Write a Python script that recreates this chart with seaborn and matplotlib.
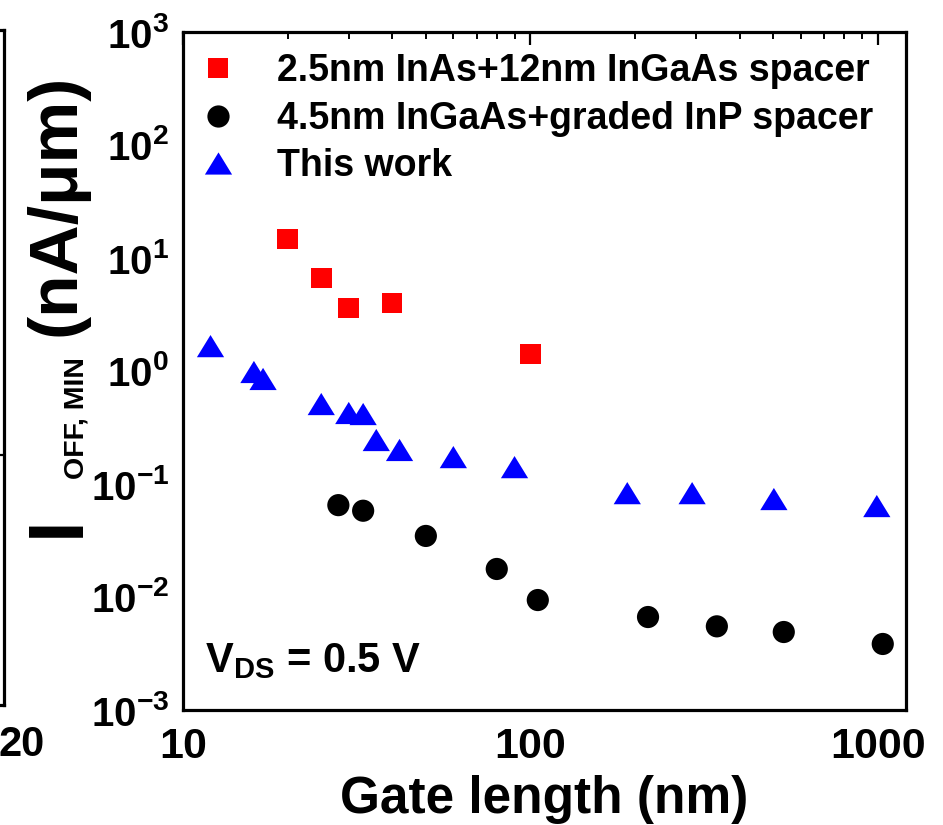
import numpy as np
import pandas as pd
import matplotlib
matplotlib.use("Agg")
import matplotlib.pyplot as plt
import seaborn as sns
from matplotlib.path import Path
from matplotlib.lines import Line2D
from matplotlib.ticker import LogLocator, FixedLocator, FixedFormatter, NullFormatter

# ---------------- data ----------------
series_names = ["2.5nm InAs+12nm InGaAs spacer",
                "4.5nm InGaAs+graded InP spacer",
                "This work"]
lg_inas = [20, 25, 30, 40, 100]
ioff_inas = [14.7, 6.65, 3.6, 4.0, 1.41]
lg_inp = [28, 33, 50, 80, 105, 218, 344, 536, 1033]
ioff_inp = [0.065, 0.058, 0.0347, 0.0177, 0.0094, 0.00665, 0.0055, 0.0049, 0.00384]
lg_this = [12, 16, 17, 25, 30, 33, 36, 42, 60, 90, 190, 292, 502, 993]
ioff_this = [1.66, 0.98, 0.85, 0.51, 0.425, 0.416, 0.245, 0.20, 0.173, 0.141,
             0.083, 0.083, 0.0736, 0.0638]
x_ticks = [10, 100, 1000]
x_tick_labels = ["10", "100", "1000"]
y_ticks = [1e-3, 1e-2, 1e-1, 1e0, 1e1, 1e2, 1e3]
y_tick_labels = [r"$10^{-3}$", r"$10^{-2}$", r"$10^{-1}$", r"$10^{0}$",
                 r"$10^{1}$", r"$10^{2}$", r"$10^{3}$"]
x_label = "Gate length (nm)"
annot_text = "V$_{\\rm DS}$ = 0.5 V"
left_panel_label = "20"

df = pd.concat([
    pd.DataFrame({"Lg": lg_inas, "Ioff": ioff_inas, "series": series_names[0]}),
    pd.DataFrame({"Lg": lg_inp, "Ioff": ioff_inp, "series": series_names[1]}),
    pd.DataFrame({"Lg": lg_this, "Ioff": ioff_this, "series": series_names[2]}),
], ignore_index=True)

# ---------------- style ----------------
sns.set_theme(style="white")
plt.rcParams["font.family"] = ["Liberation Sans", "DejaVu Sans"]
plt.rcParams["font.weight"] = "bold"
plt.rcParams["text.color"] = "black"
plt.rcParams["axes.labelcolor"] = "black"
plt.rcParams["xtick.color"] = "black"
plt.rcParams["ytick.color"] = "black"
plt.rcParams["mathtext.fontset"] = "custom"
plt.rcParams["mathtext.rm"] = "Liberation Sans:bold"
plt.rcParams["mathtext.bf"] = "Liberation Sans:bold"
plt.rcParams["mathtext.it"] = "Liberation Sans:bold"
plt.rcParams["mathtext.default"] = "rm"

W, H = 943, 825
fig = plt.figure(figsize=(W / 100, H / 100), dpi=100)

def fx(px):
    return px / W

def fy(py):
    return 1 - py / H

# main axes
ax = fig.add_axes([fx(183), fy(710), fx(906) - fx(183), fy(32) - fy(710)])

tri = Path([(-1, -0.815), (1, -0.815), (0, 0.815), (-1, -0.815)],
           [Path.MOVETO, Path.LINETO, Path.LINETO, Path.CLOSEPOLY])
palette = {series_names[0]: "#ff0000", series_names[1]: "#000000", series_names[2]: "#0000ff"}
markers = {series_names[0]: "s", series_names[1]: "o", series_names[2]: tri}
sizes = {series_names[0]: 220, series_names[1]: 255, series_names[2]: 385}

sns.scatterplot(data=df, x="Lg", y="Ioff", hue="series", style="series", size="series",
                palette=palette, markers=markers, sizes=sizes, linewidth=0,
                ax=ax, legend=False, zorder=3)

ax.set_xscale("log")
ax.set_yscale("log")
ax.set_xlim(10, 1205)
ax.set_ylim(1e-3, 1e3)

ax.xaxis.set_major_locator(FixedLocator(x_ticks))
ax.xaxis.set_major_formatter(FixedFormatter(x_tick_labels))
ax.xaxis.set_minor_locator(LogLocator(base=10, subs=np.arange(2, 10)))
ax.xaxis.set_minor_formatter(NullFormatter())
ax.yaxis.set_major_locator(FixedLocator(y_ticks))
ax.yaxis.set_major_formatter(FixedFormatter(y_tick_labels))
ax.yaxis.set_minor_locator(LogLocator(base=10, subs=np.arange(2, 10), numticks=20))
ax.yaxis.set_minor_formatter(NullFormatter())

for s in ax.spines.values():
    s.set_linewidth(2.3)
    s.set_color("black")

ax.tick_params(axis="both", which="major", direction="in", length=9, width=1.6,
               color="black", pad=8)
ax.tick_params(axis="both", which="minor", direction="in", length=5, width=1.4,
               color="black")
ax.tick_params(axis="x", which="both", top=True)
ax.tick_params(axis="x", which="major", labelsize=31, pad=12, labelcolor="black")
ax.tick_params(axis="y", which="major", labelsize=29, pad=10, labelcolor="black")
for t in ax.get_xticklabels() + ax.get_yticklabels():
    t.set_fontweight("bold")

ax.set_xlabel(x_label, fontsize=37, fontweight="bold", labelpad=6, color="black")
ax.set_ylabel("")

# legend
handles = [
    Line2D([], [], linestyle="none", marker="s", markersize=15,
           markerfacecolor="#ff0000", markeredgewidth=0),
    Line2D([], [], linestyle="none", marker="o", markersize=16,
           markerfacecolor="#000000", markeredgewidth=0),
    Line2D([], [], linestyle="none", marker=tri, markersize=19.6,
           markerfacecolor="#0000ff", markeredgewidth=0),
]
leg = ax.legend(handles, series_names, loc="upper left",
                bbox_to_anchor=(fx(199), fy(53)), bbox_transform=fig.transFigure,
                frameon=False, borderpad=0, borderaxespad=0,
                handlelength=1.0, handletextpad=1.08, labelspacing=0.31,
                prop={"size": 27, "weight": "bold"})
for t in leg.get_texts():
    t.set_color("black")

# annotation
fig.text(fx(205), fy(672), annot_text, fontsize=30, fontweight="bold",
         va="baseline", ha="left", color="black")

# y label composed of pieces
fig.text(fx(58), fy(526), "I", fontsize=56, fontweight="bold", rotation=90,
         ha="center", va="center", color="black")
fig.text(fx(77), fy(418), "OFF, MIN", fontsize=20.5, fontweight="bold", rotation=90,
         ha="center", va="center", color="black")
fig.text(fx(57), fy(205), "(nA/\u03bcm)", fontsize=50, fontweight="bold", rotation=90,
         ha="center", va="center", color="black")

# partial neighbouring panel at the left edge
ax0 = fig.add_axes([-0.3, fy(705), 0.3 + fx(4), fy(30) - fy(705)])
ax0.set_xticks([])
ax0.yaxis.tick_right()
ax0.set_yticks([0.37])
ax0.set_ylim(0, 1)
ax0.tick_params(axis="y", direction="in", length=7, width=1.6, labelright=False)
ax0.spines["left"].set_visible(False)
for k in ("top", "right", "bottom"):
    ax0.spines[k].set_linewidth(2.3)
    ax0.spines[k].set_color("black")
ax0.set_facecolor("none")
fig.text(fx(22), fy(745), left_panel_label, fontsize=30, fontweight="bold",
         ha="center", va="center", color="black")

fig.savefig("out.png", dpi=100)
